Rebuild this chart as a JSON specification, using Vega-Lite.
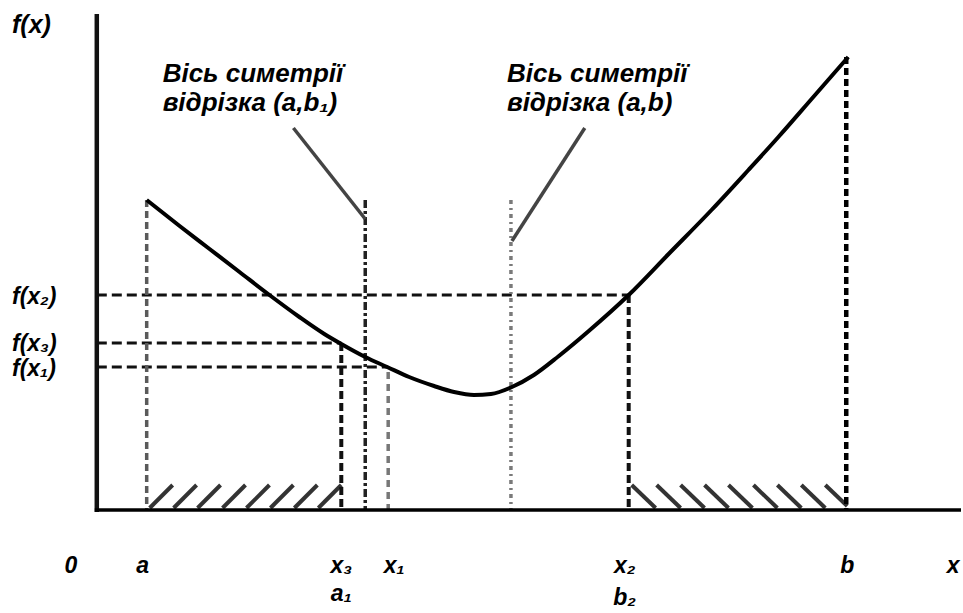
{
  "$schema": "https://vega.github.io/schema/vega-lite/v6.json",
  "width": 963,
  "height": 613,
  "autosize": {"type": "fit", "contains": "padding"},
  "padding": 0,
  "background": "white",
  "config": {"view": {"stroke": null}},
  "datasets": {
    "curve": [
      {"x": 147, "y": 200}, {"x": 180, "y": 226}, {"x": 210, "y": 249}, {"x": 240, "y": 272},
      {"x": 270, "y": 295}, {"x": 300, "y": 317}, {"x": 325, "y": 334}, {"x": 342, "y": 344},
      {"x": 366, "y": 357}, {"x": 388, "y": 367}, {"x": 410, "y": 377}, {"x": 435, "y": 386},
      {"x": 455, "y": 392}, {"x": 475, "y": 395}, {"x": 492, "y": 394}, {"x": 513, "y": 387},
      {"x": 535, "y": 375}, {"x": 560, "y": 356}, {"x": 590, "y": 331}, {"x": 630, "y": 295},
      {"x": 670, "y": 254}, {"x": 713, "y": 210}, {"x": 750, "y": 170}, {"x": 780, "y": 137},
      {"x": 815, "y": 97}, {"x": 850, "y": 57}
    ],
    "segs": [
      {"kind": "axisY", "x": 97, "y": 14, "x2": 97, "y2": 512},
      {"kind": "axisX", "x": 95, "y": 510, "x2": 963, "y2": 510},
      {"kind": "hdash", "x": 97, "y": 295, "x2": 630, "y2": 295},
      {"kind": "hdash", "x": 97, "y": 343, "x2": 342, "y2": 343},
      {"kind": "hdash", "x": 97, "y": 367, "x2": 388, "y2": 367},
      {"kind": "vdotA", "x": 147, "y": 200, "x2": 147, "y2": 510},
      {"kind": "vdashX3", "x": 342, "y": 343, "x2": 342, "y2": 510},
      {"kind": "dashdot1", "x": 366, "y": 200, "x2": 366, "y2": 510},
      {"kind": "vdashX1", "x": 389, "y": 372, "x2": 389, "y2": 510},
      {"kind": "dashdot2", "x": 512, "y": 200, "x2": 512, "y2": 510},
      {"kind": "vdashX2", "x": 630, "y": 295, "x2": 630, "y2": 510},
      {"kind": "vdashB", "x": 848, "y": 57, "x2": 848, "y2": 510},
      {"kind": "leader", "x": 294, "y": 128, "x2": 366, "y2": 219},
      {"kind": "leader", "x": 586, "y": 128, "x2": 513, "y2": 241},
      {"kind": "hatch", "x": 150, "y": 508, "x2": 173, "y2": 485},
      {"kind": "hatch", "x": 174, "y": 508, "x2": 197, "y2": 485},
      {"kind": "hatch", "x": 198, "y": 508, "x2": 221, "y2": 485},
      {"kind": "hatch", "x": 223, "y": 508, "x2": 246, "y2": 485},
      {"kind": "hatch", "x": 247, "y": 508, "x2": 270, "y2": 485},
      {"kind": "hatch", "x": 271, "y": 508, "x2": 294, "y2": 485},
      {"kind": "hatch", "x": 295, "y": 508, "x2": 318, "y2": 485},
      {"kind": "hatch", "x": 319, "y": 508, "x2": 342, "y2": 485},
      {"kind": "hatch", "x": 633, "y": 485, "x2": 657, "y2": 508},
      {"kind": "hatch", "x": 658, "y": 485, "x2": 682, "y2": 508},
      {"kind": "hatch", "x": 682, "y": 485, "x2": 706, "y2": 508},
      {"kind": "hatch", "x": 706, "y": 485, "x2": 730, "y2": 508},
      {"kind": "hatch", "x": 730, "y": 485, "x2": 754, "y2": 508},
      {"kind": "hatch", "x": 755, "y": 485, "x2": 779, "y2": 508},
      {"kind": "hatch", "x": 779, "y": 485, "x2": 803, "y2": 508},
      {"kind": "hatch", "x": 803, "y": 485, "x2": 827, "y2": 508},
      {"kind": "hatch", "x": 827, "y": 485, "x2": 849, "y2": 506}
    ],
    "labels": [
      {"grp": "fx", "label": "f(x)", "x": 12, "y": 33},
      {"grp": "note", "label": "Вісь симетрії", "x": 163, "y": 82},
      {"grp": "note", "label": "відрізка (a,b₁)", "x": 163, "y": 111},
      {"grp": "note", "label": "Вісь симетрії", "x": 508, "y": 82},
      {"grp": "note", "label": "відрізка (a,b)", "x": 508, "y": 111},
      {"grp": "ylab", "label": "f(x₂)", "x": 12, "y": 304},
      {"grp": "ylab", "label": "f(x₃)", "x": 12, "y": 351},
      {"grp": "ylab", "label": "f(x₁)", "x": 12, "y": 376},
      {"grp": "xlab", "label": "0", "x": 71, "y": 573},
      {"grp": "xlab", "label": "a", "x": 143, "y": 573},
      {"grp": "xlab", "label": "x₃", "x": 342, "y": 573},
      {"grp": "xlab", "label": "x₁", "x": 395, "y": 573},
      {"grp": "xlab", "label": "x₂", "x": 626, "y": 573},
      {"grp": "xlab", "label": "b", "x": 849, "y": 573},
      {"grp": "xlab", "label": "x", "x": 955, "y": 573},
      {"grp": "xlab", "label": "a₁", "x": 342, "y": 601},
      {"grp": "xlab", "label": "b₂", "x": 626, "y": 605}
    ]
  },
  "encoding": {
    "x": {"field": "x", "type": "quantitative", "scale": {"domain": [0, 963], "nice": false, "zero": false}, "axis": null},
    "y": {"field": "y", "type": "quantitative", "scale": {"domain": [0, 613], "nice": false, "zero": false, "reverse": true}, "axis": null}
  },
  "layer": [
    {"data": {"name": "segs"}, "transform": [{"filter": "datum.kind == 'hatch'"}],
     "mark": {"type": "rule", "color": "#333333", "strokeWidth": 4},
     "encoding": {"x2": {"field": "x2"}, "y2": {"field": "y2"}}},
    {"data": {"name": "segs"}, "transform": [{"filter": "datum.kind == 'hdash'"}],
     "mark": {"type": "rule", "color": "#111111", "strokeWidth": 3, "strokeDash": [10, 5]},
     "encoding": {"x2": {"field": "x2"}, "y2": {"field": "y2"}}},
    {"data": {"name": "segs"}, "transform": [{"filter": "datum.kind == 'vdotA'"}],
     "mark": {"type": "rule", "color": "#5a5a5a", "strokeWidth": 3.5, "strokeDash": [7, 4]},
     "encoding": {"x2": {"field": "x2"}, "y2": {"field": "y2"}}},
    {"data": {"name": "segs"}, "transform": [{"filter": "datum.kind == 'vdashX3'"}],
     "mark": {"type": "rule", "color": "#111111", "strokeWidth": 4, "strokeDash": [8, 4]},
     "encoding": {"x2": {"field": "x2"}, "y2": {"field": "y2"}}},
    {"data": {"name": "segs"}, "transform": [{"filter": "datum.kind == 'dashdot1'"}],
     "mark": {"type": "rule", "color": "#222222", "strokeWidth": 3.5, "strokeDash": [8, 3, 3, 3]},
     "encoding": {"x2": {"field": "x2"}, "y2": {"field": "y2"}}},
    {"data": {"name": "segs"}, "transform": [{"filter": "datum.kind == 'vdashX1'"}],
     "mark": {"type": "rule", "color": "#777777", "strokeWidth": 3.5, "strokeDash": [7, 5]},
     "encoding": {"x2": {"field": "x2"}, "y2": {"field": "y2"}}},
    {"data": {"name": "segs"}, "transform": [{"filter": "datum.kind == 'dashdot2'"}],
     "mark": {"type": "rule", "color": "#7a7a7a", "strokeWidth": 3.5, "strokeDash": [4, 4, 2, 4]},
     "encoding": {"x2": {"field": "x2"}, "y2": {"field": "y2"}}},
    {"data": {"name": "segs"}, "transform": [{"filter": "datum.kind == 'vdashX2'"}],
     "mark": {"type": "rule", "color": "#111111", "strokeWidth": 4, "strokeDash": [8, 4]},
     "encoding": {"x2": {"field": "x2"}, "y2": {"field": "y2"}}},
    {"data": {"name": "segs"}, "transform": [{"filter": "datum.kind == 'vdashB'"}],
     "mark": {"type": "rule", "color": "#000000", "strokeWidth": 4.5, "strokeDash": [7, 4]},
     "encoding": {"x2": {"field": "x2"}, "y2": {"field": "y2"}}},
    {"data": {"name": "segs"}, "transform": [{"filter": "datum.kind == 'leader'"}],
     "mark": {"type": "rule", "color": "#444444", "strokeWidth": 3.5},
     "encoding": {"x2": {"field": "x2"}, "y2": {"field": "y2"}}},
    {"data": {"name": "curve"},
     "mark": {"type": "line", "color": "#000000", "strokeWidth": 4, "interpolate": "monotone"},
     "encoding": {}},
    {"data": {"name": "segs"}, "transform": [{"filter": "datum.kind == 'axisY'"}],
     "mark": {"type": "rule", "color": "#111111", "strokeWidth": 4.5},
     "encoding": {"x2": {"field": "x2"}, "y2": {"field": "y2"}}},
    {"data": {"name": "segs"}, "transform": [{"filter": "datum.kind == 'axisX'"}],
     "mark": {"type": "rule", "color": "#000000", "strokeWidth": 3.5},
     "encoding": {"x2": {"field": "x2"}, "y2": {"field": "y2"}}},
    {"data": {"name": "labels"}, "transform": [{"filter": "datum.grp == 'fx'"}],
     "mark": {"type": "text", "align": "left", "baseline": "alphabetic", "font": "Liberation Sans", "fontStyle": "italic", "fontWeight": "bold", "fontSize": 25, "color": "#000000"},
     "encoding": {"text": {"field": "label"}}},
    {"data": {"name": "labels"}, "transform": [{"filter": "datum.grp == 'note'"}],
     "mark": {"type": "text", "align": "left", "baseline": "alphabetic", "font": "Liberation Sans", "fontStyle": "italic", "fontWeight": "bold", "fontSize": 26, "color": "#000000"},
     "encoding": {"text": {"field": "label"}}},
    {"data": {"name": "labels"}, "transform": [{"filter": "datum.grp == 'ylab'"}],
     "mark": {"type": "text", "align": "left", "baseline": "alphabetic", "font": "Liberation Sans", "fontStyle": "italic", "fontWeight": "bold", "fontSize": 23, "color": "#000000"},
     "encoding": {"text": {"field": "label"}}},
    {"data": {"name": "labels"}, "transform": [{"filter": "datum.grp == 'xlab'"}],
     "mark": {"type": "text", "align": "center", "baseline": "alphabetic", "font": "Liberation Sans", "fontStyle": "italic", "fontWeight": "bold", "fontSize": 23, "color": "#000000"},
     "encoding": {"text": {"field": "label"}}}
  ]
}
